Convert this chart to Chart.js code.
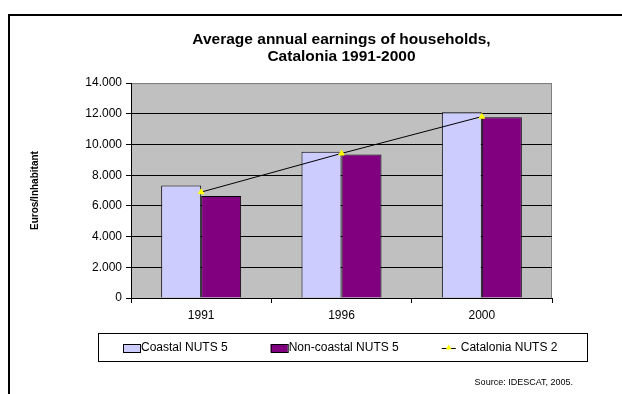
<!DOCTYPE html>
<html>
<head>
<meta charset="utf-8">
<script src="https://cdn.jsdelivr.net/npm/chart.js@4.4.1/dist/chart.umd.min.js"></script>
<style>
  html, body { margin: 0; padding: 0; background: #fff; }
  canvas { display: block; }
</style>
</head>
<body>
<canvas id="chart" width="622" height="394"></canvas>
<script>
// Average annual earnings of households (euros per inhabitant)
const years = ['1991', '1996', '2000'];
const coastal = [7330, 9530, 12100];
const nonCoastal = [6650, 9350, 11780];
const catalonia = [6900, 9420, 11820];
const seriesNames = ['Coastal NUTS 5', 'Non-coastal NUTS 5', 'Catalonia NUTS 2'];
const titleLines = ['Average annual earnings of households,', 'Catalonia 1991-2000'];
const yTitle = 'Euros/Inhabitant';
const sourceNote = 'Source: IDESCAT, 2005.';
const yMin = 0, yMax = 14000, yStep = 2000;

const FONT = '"Liberation Sans", Arial, Helvetica, sans-serif';
Chart.defaults.font.family = FONT;
Chart.defaults.color = '#000';

// thousands separated with a dot: 14000 -> 14.000
const fmt = v => String(v).replace(/\B(?=(\d{3})+(?!\d))/g, '.');

// outer frame, grey plot background and its grey top/right border
const backdrop = {
  id: 'backdrop',
  beforeDraw(chart) {
    const { ctx, chartArea: a } = chart;
    ctx.save();
    ctx.strokeStyle = '#000';
    ctx.lineWidth = 2;
    ctx.strokeRect(9, 15, 800, 600);
    ctx.fillStyle = '#C0C0C0';
    ctx.fillRect(a.left, a.top, a.right - a.left, a.bottom - a.top);
    ctx.strokeStyle = '#808080';
    ctx.lineWidth = 1;
    ctx.beginPath();
    ctx.moveTo(a.left, a.top + 0.5);
    ctx.lineTo(a.right - 0.5, a.top + 0.5);
    ctx.lineTo(a.right - 0.5, a.bottom);
    ctx.stroke();
    ctx.restore();
  }
};

// boxed legend below the axis, plus the source note
const boxLegend = {
  id: 'boxLegend',
  afterDraw(chart) {
    const { ctx, chartArea: a } = chart;
    const top = Math.round(a.bottom) + 35, h = 28;
    const left = Math.round(a.left) - 33, right = Math.round(a.right) + 35;
    ctx.save();
    ctx.strokeStyle = '#000';
    ctx.lineWidth = 1;
    ctx.strokeRect(left + 0.5, top + 0.5, right - left, h);
    ctx.font = '12px ' + FONT;
    ctx.textBaseline = 'middle';
    ctx.textAlign = 'left';
    const cy = top + h / 2 + 0.5;
    let x = Math.round(a.left) - 8;
    chart.data.datasets.forEach(ds => {
      let tx;
      if (ds.type === 'line') {
        ctx.strokeStyle = ds.borderColor;
        ctx.beginPath();
        ctx.moveTo(x, Math.round(cy) + 0.5);
        ctx.lineTo(x + 14, Math.round(cy) + 0.5);
        ctx.stroke();
        ctx.fillStyle = ds.pointBackgroundColor;
        ctx.beginPath();
        ctx.moveTo(x + 7, cy - 3);
        ctx.lineTo(x + 10, cy + 2);
        ctx.lineTo(x + 4, cy + 2);
        ctx.closePath();
        ctx.fill();
        tx = x + 19;
      } else {
        ctx.fillStyle = ds.backgroundColor;
        ctx.fillRect(x, Math.round(cy) - 4, 17, 8);
        ctx.strokeStyle = ds.borderColor;
        ctx.strokeRect(x + 0.5, Math.round(cy) - 3.5, 17, 8);
        tx = x + 18;
      }
      ctx.fillStyle = '#000';
      ctx.fillText(ds.label, tx, cy);
      x = tx + ctx.measureText(ds.label).width + 43;
    });
    ctx.font = '9px ' + FONT;
    ctx.textAlign = 'right';
    ctx.fillText(sourceNote, Math.round(a.right) + 21, 383);
    ctx.restore();
  }
};

new Chart(document.getElementById('chart'), {
  data: {
    labels: years,
    datasets: [
      {
        type: 'bar', label: seriesNames[0], data: coastal, order: 1,
        backgroundColor: '#CCCCFF', borderColor: '#000', borderWidth: 1,
        categoryPercentage: 0.57, barPercentage: 1
      },
      {
        type: 'bar', label: seriesNames[1], data: nonCoastal, order: 1,
        backgroundColor: '#800080', borderColor: '#000', borderWidth: 1,
        categoryPercentage: 0.57, barPercentage: 1
      },
      {
        type: 'line', label: seriesNames[2], data: catalonia, order: 0,
        borderColor: '#000', borderWidth: 1, tension: 0,
        pointStyle: 'triangle', pointRadius: 3.2,
        pointBackgroundColor: '#FFFF00', pointBorderColor: '#FFFF00', pointBorderWidth: 1
      }
    ]
  },
  options: {
    responsive: false,
    animation: false,
    devicePixelRatio: 1,
    layout: { padding: { top: 24, left: 25, right: 70, bottom: 66 } },
    plugins: {
      legend: { display: false },
      tooltip: { enabled: false },
      title: {
        display: true,
        fullSize: false,
        text: titleLines,
        color: '#000',
        font: { size: 15.5, weight: 'bold', lineHeight: 1.08 },
        padding: { top: 7.65, bottom: 18 }
      }
    },
    scales: {
      x: {
        afterFit: s => { s.height = 30; },
        grid: {
          display: true, drawOnChartArea: false, drawTicks: true,
          tickLength: 5, color: '#000', offset: true
        },
        border: { display: true, color: '#000', width: 1 },
        ticks: { font: { size: 12 }, padding: 5, color: '#000' }
      },
      y: {
        min: yMin, max: yMax,
        afterFit: s => { s.width = 106; },
        grid: {
          color: c => (c.tick && c.tick.value === yMax) ? '#808080' : '#000',
          tickColor: '#000', tickLength: 5, lineWidth: 1
        },
        border: { display: true, color: '#000', width: 1 },
        ticks: { stepSize: yStep, padding: 4, font: { size: 12 }, color: '#000', callback: v => fmt(v) },
        title: {
          display: true, text: yTitle, color: '#000',
          font: { size: 10, weight: 'bold' }, padding: { top: 4, bottom: 0 }
        }
      }
    }
  },
  plugins: [backdrop, boxLegend]
});
</script>
</body>
</html>
